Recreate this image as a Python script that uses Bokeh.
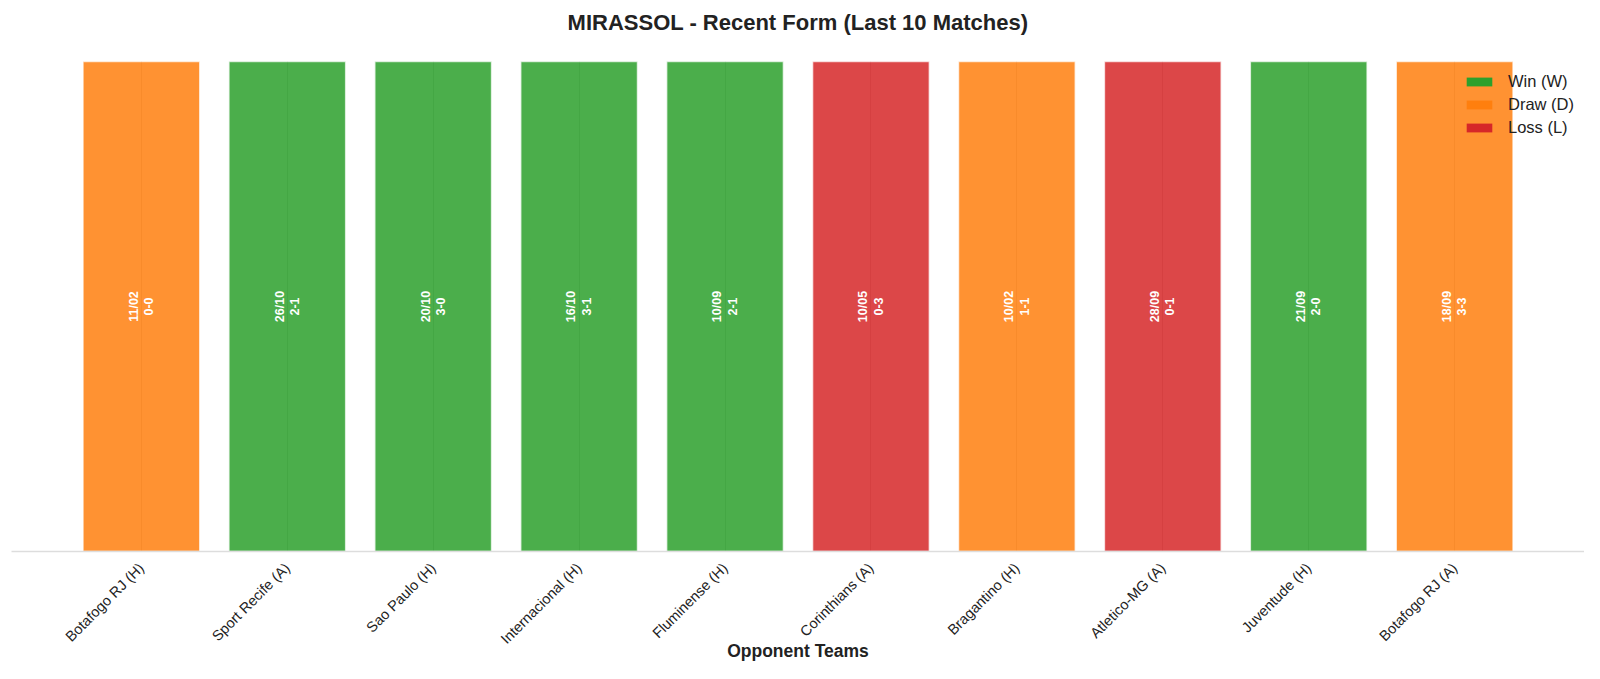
import math
from bokeh.plotting import figure
from bokeh.models import ColumnDataSource, FixedTicker, Range1d, Legend, LegendItem
from bokeh.core.properties import value
from bokeh.embed import file_html
from bokeh.resources import INLINE

opponents = ["Botafogo RJ (H)", "Sport Recife (A)", "Sao Paulo (H)", "Internacional (H)",
             "Fluminense (H)", "Corinthians (A)", "Bragantino (H)", "Atletico-MG (A)",
             "Juventude (H)", "Botafogo RJ (A)"]
dates = ["11/02", "26/10", "20/10", "16/10", "10/09", "10/05", "10/02", "28/09", "21/09", "18/09"]
scores = ["0-0", "2-1", "3-0", "3-1", "2-1", "0-3", "1-1", "0-1", "2-0", "3-3"]
results = ["D", "W", "W", "W", "W", "L", "D", "L", "W", "D"]
bar_value = [1] * len(results)
chart_title = "MIRASSOL - Recent Form (Last 10 Matches)"
x_title = "Opponent Teams"

colors = {"W": "#2ca02c", "D": "#ff7f0e", "L": "#d62728"}
names = {"W": "Win (W)", "D": "Draw (D)", "L": "Loss (L)"}
FONT = "Liberation Sans"

xs = list(range(len(opponents)))
src = ColumnDataSource(dict(
    x=xs, top=bar_value, half=[v / 2 for v in bar_value],
    color=[colors[r] for r in results],
    label=[d + "\n" + s for d, s in zip(dates, scores)],
))

p = figure(width=1584, height=663, output_backend="svg", toolbar_location=None,
           x_range=Range1d(-0.89, len(xs) - 1 + 0.89), y_range=Range1d(0, 1),
           min_border_left=11, min_border_right=0, min_border_top=61, min_border_bottom=108)
# trailing blank line lifts the title away from the plot area
p.title.text = chart_title + "\n "
p.title.align = "center"
p.title.standoff = 4
p.title.text_font = FONT
p.title.text_font_size = "22px"
p.title.text_font_style = "bold"
p.title.text_color = "#222222"

p.outline_line_color = None
p.ygrid.visible = False
p.xgrid.grid_line_color = "#d0d0d0"
p.yaxis.visible = False

p.vbar(x="x", top="top", width=0.8, source=src, fill_color="color", fill_alpha=0.85,
       line_color="white", line_width=1.5, line_alpha=0.7)

p.text(x="x", y="half", text="label", source=src, angle=math.pi / 2,
       text_align="center", text_baseline="middle", text_color="white",
       text_font=value(FONT), text_font_size="12.5px", text_font_style="bold",
       text_line_height=1.1)

items = []
nan = float("nan")
dummy = ColumnDataSource(dict(x=[nan], top=[nan]))
for k in ["W", "D", "L"]:
    r = p.vbar(x="x", top="top", width=0.8, source=dummy, fill_color=colors[k],
               line_color=None)
    items.append(LegendItem(label=names[k], renderers=[r]))
legend = Legend(items=items, location="top_right", border_line_color=None,
                background_fill_alpha=0, label_text_font=FONT, label_text_font_size="16.5px",
                label_text_color="#222222", glyph_width=32, glyph_height=11,
                label_height=20, spacing=3, margin=10, padding=4, label_standoff=13)
p.add_layout(legend)

ax = p.xaxis[0]
ax.ticker = FixedTicker(ticks=xs)
ax.major_label_overrides = {i: t for i, t in zip(xs, opponents)}
ax.major_label_orientation = math.pi / 4
ax.major_label_standoff = 8
ax.major_label_text_font = FONT
ax.major_label_text_font_size = "14.5px"
ax.major_label_text_color = "#222222"
ax.major_tick_line_color = None
ax.minor_tick_line_color = None
ax.axis_line_color = "#dddddd"
ax.axis_line_width = 1.5
ax.axis_label = x_title
ax.axis_label_standoff = -15
ax.axis_label_text_font = FONT
ax.axis_label_text_font_size = "17.5px"
ax.axis_label_text_font_style = "bold"
ax.axis_label_text_color = "#222222"

open("out.html", "w").write(file_html(p, INLINE))
